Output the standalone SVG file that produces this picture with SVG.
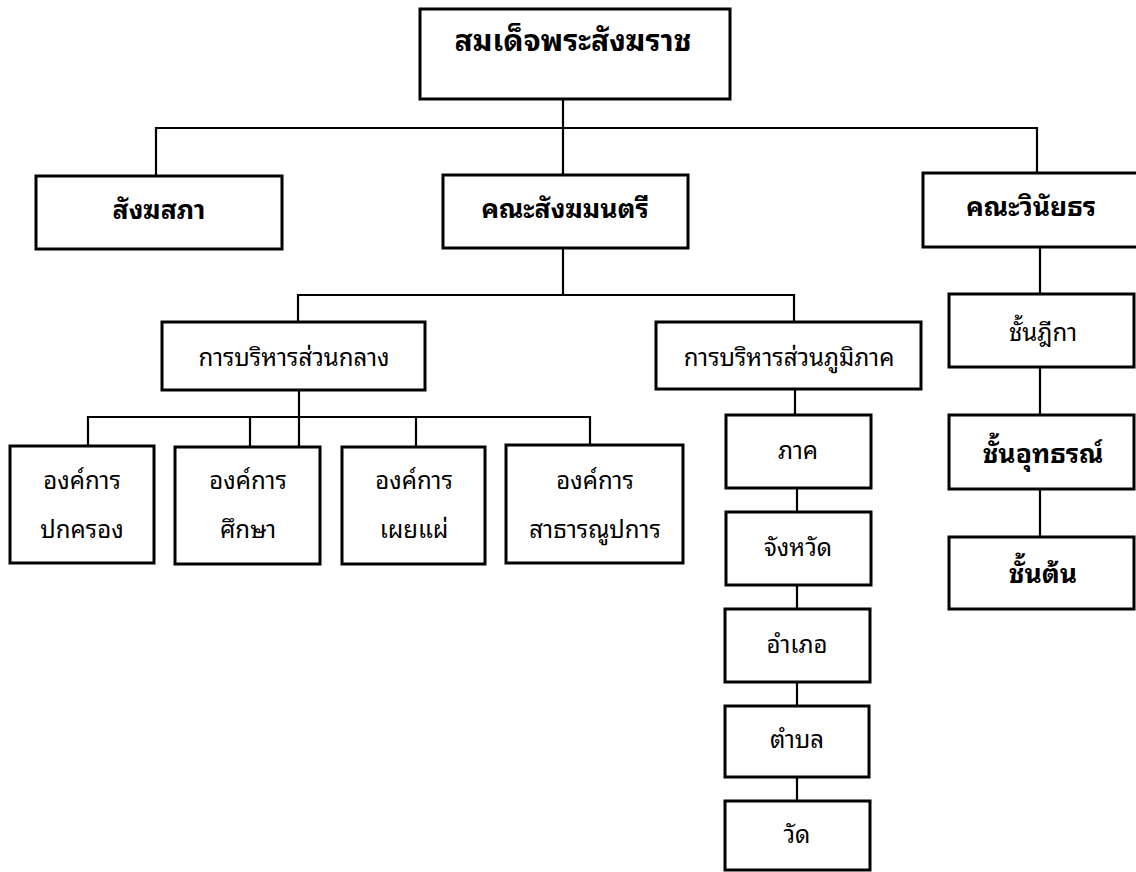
<svg xmlns="http://www.w3.org/2000/svg" width="1136" height="872" viewBox="0 0 1136 872">
<style>
.box{fill:#fff;stroke:#000;stroke-width:3}
.ln{fill:none;stroke:#000;stroke-width:2.2}
text{font-family:"Noto Sans Thai Looped","Noto Sans Thai","Noto Sans","DejaVu Sans",sans-serif;fill:#000;text-anchor:middle;font-size:24px}
.b{font-weight:bold;font-size:26.5px}
.big{font-weight:bold;font-size:30px}
</style>
<rect width="1136" height="872" fill="#fff"/>
<g id="connectors">
<path class="ln" d="M563,99V175M156,175V128H1037V173"/>
<path class="ln" d="M563,248V295M298,322V295H794V322"/>
<path class="ln" d="M299,390V446M88,446V417H590V446M250,417V447M416,417V447"/>
<path class="ln" d="M795,389V415M797,488V512M797,585V609M797,682V706M797,777V801"/>
<path class="ln" d="M1040,247V294M1040,367V415M1040,489V537"/>
</g>
<g id="n-top"><rect class="box" x="420" y="9" width="310" height="90"/><text class="big" x="573" y="51">สมเด็จพระสังฆราช</text></g>
<g id="n-sangha-sapha"><rect class="box" x="36" y="176" width="246" height="73"/><text class="b" x="159" y="219">สังฆสภา</text></g>
<g id="n-sangha-montri"><rect class="box" x="443" y="175" width="245" height="73"/><text class="b" x="565" y="218">คณะสังฆมนตรี</text></g>
<g id="n-vinaya"><rect class="box" x="923" y="173" width="216" height="74"/><text class="b" x="1031" y="216">คณะวินัยธร</text></g>
<g id="n-central"><rect class="box" x="162" y="322" width="263" height="68"/><text x="294" y="366">การบริหารส่วนกลาง</text></g>
<g id="n-regional"><rect class="box" x="656" y="322" width="265" height="67"/><text x="789" y="366">การบริหารส่วนภูมิภาค</text></g>
<g id="n-org1"><rect class="box" x="10" y="446" width="144" height="117"/><text x="82" y="489">องค์การ</text><text x="82" y="538">ปกครอง</text></g>
<g id="n-org2"><rect class="box" x="175" y="447" width="145" height="117"/><text x="248" y="489">องค์การ</text><text x="248" y="538">ศึกษา</text></g>
<g id="n-org3"><rect class="box" x="342" y="447" width="143" height="117"/><text x="414" y="489">องค์การ</text><text x="414" y="538">เผยแผ่</text></g>
<g id="n-org4"><rect class="box" x="506" y="445" width="177" height="118"/><text x="595" y="489">องค์การ</text><text x="595" y="538">สาธารณูปการ</text></g>
<g id="n-phak"><rect class="box" x="726" y="415" width="145" height="73"/><text x="798" y="459">ภาค</text></g>
<g id="n-changwat"><rect class="box" x="726" y="512" width="145" height="73"/><text x="798" y="556">จังหวัด</text></g>
<g id="n-amphoe"><rect class="box" x="725" y="609" width="145" height="73"/><text x="797" y="653">อำเภอ</text></g>
<g id="n-tambon"><rect class="box" x="725" y="706" width="144" height="71"/><text x="797" y="748">ตำบล</text></g>
<g id="n-wat"><rect class="box" x="725" y="801" width="145" height="69"/><text x="797" y="843">วัด</text></g>
<g id="n-dika"><rect class="box" x="949" y="294" width="185" height="73"/><text x="1043" y="341">ชั้นฎีกา</text></g>
<g id="n-utthon"><rect class="box" x="949" y="415" width="185" height="74"/><text class="b" x="1043" y="463">ชั้นอุทธรณ์</text></g>
<g id="n-ton"><rect class="box" x="949" y="537" width="185" height="72"/><text class="b" x="1043" y="583">ชั้นต้น</text></g>
</svg>
